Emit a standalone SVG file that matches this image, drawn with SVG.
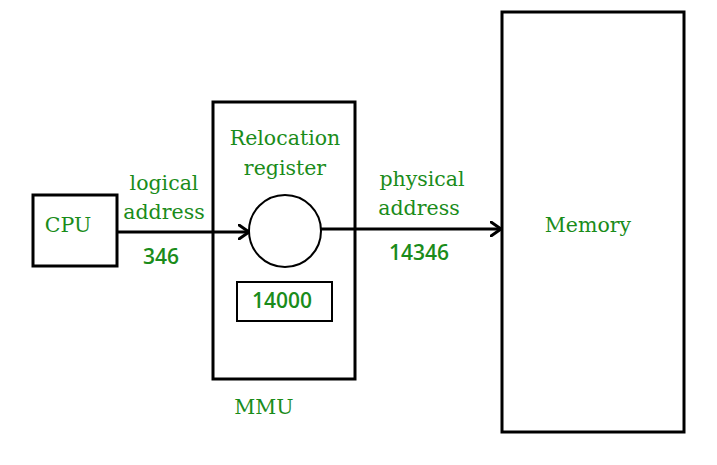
<svg xmlns="http://www.w3.org/2000/svg" width="717" height="465" viewBox="0 0 717 465">
<defs>
<style>
.box{fill:#fff;stroke:#000;stroke-width:3}
.thin{fill:#fff;stroke:#000;stroke-width:2}
.lbl{font-family:"DejaVu Serif","Liberation Serif",serif;font-size:20.5px;fill:#1a8c1a}
.num{font-family:"Open Sans","DejaVu Sans",sans-serif;font-weight:600;font-size:21px;fill:#1a8c1a}
.edge{stroke:#000;stroke-width:3;fill:none}
</style>
<marker id="chev" viewBox="0 0 12 16" refX="11" refY="8" markerWidth="12" markerHeight="16" markerUnits="userSpaceOnUse" orient="auto">
<path d="M1,1 L11,8 L1,15" fill="none" stroke="#000" stroke-width="3" stroke-linecap="round" stroke-linejoin="round"/>
</marker>
</defs>
<rect width="717" height="465" fill="#fff"/>
<g id="cpu">
<rect class="box" x="33" y="195" width="84" height="71"/>
<text class="lbl" x="68" y="232" text-anchor="middle">CPU</text>
</g>
<g id="mmu">
<rect class="box" x="213" y="102" width="142" height="277"/>
<text class="lbl" x="285" y="145" text-anchor="middle">Relocation</text>
<text class="lbl" x="285" y="175" text-anchor="middle">register</text>
<text class="lbl" x="264" y="414" text-anchor="middle">MMU</text>
</g>
<g id="adder">
<circle class="thin" cx="285" cy="231" r="36"/>
</g>
<g id="reg">
<rect class="thin" x="237" y="282" width="95" height="39"/>
<text class="num" x="282" y="308" text-anchor="middle">14000</text>
</g>
<g id="memory">
<rect class="box" x="502" y="12" width="182" height="420"/>
<text class="lbl" x="588" y="232" text-anchor="middle">Memory</text>
</g>
<g id="connectors">
<line class="edge" x1="117" y1="232" x2="249" y2="232" marker-end="url(#chev)"/>
<line class="edge" x1="321" y1="229" x2="501" y2="229" marker-end="url(#chev)"/>
<text class="lbl" x="164" y="190" text-anchor="middle">logical</text>
<text class="lbl" x="164" y="219" text-anchor="middle">address</text>
<text class="num" x="161" y="264" text-anchor="middle">346</text>
<text class="lbl" x="422" y="186" text-anchor="middle">physical</text>
<text class="lbl" x="419" y="215" text-anchor="middle">address</text>
<text class="num" x="419" y="260" text-anchor="middle">14346</text>
</g>
</svg>
